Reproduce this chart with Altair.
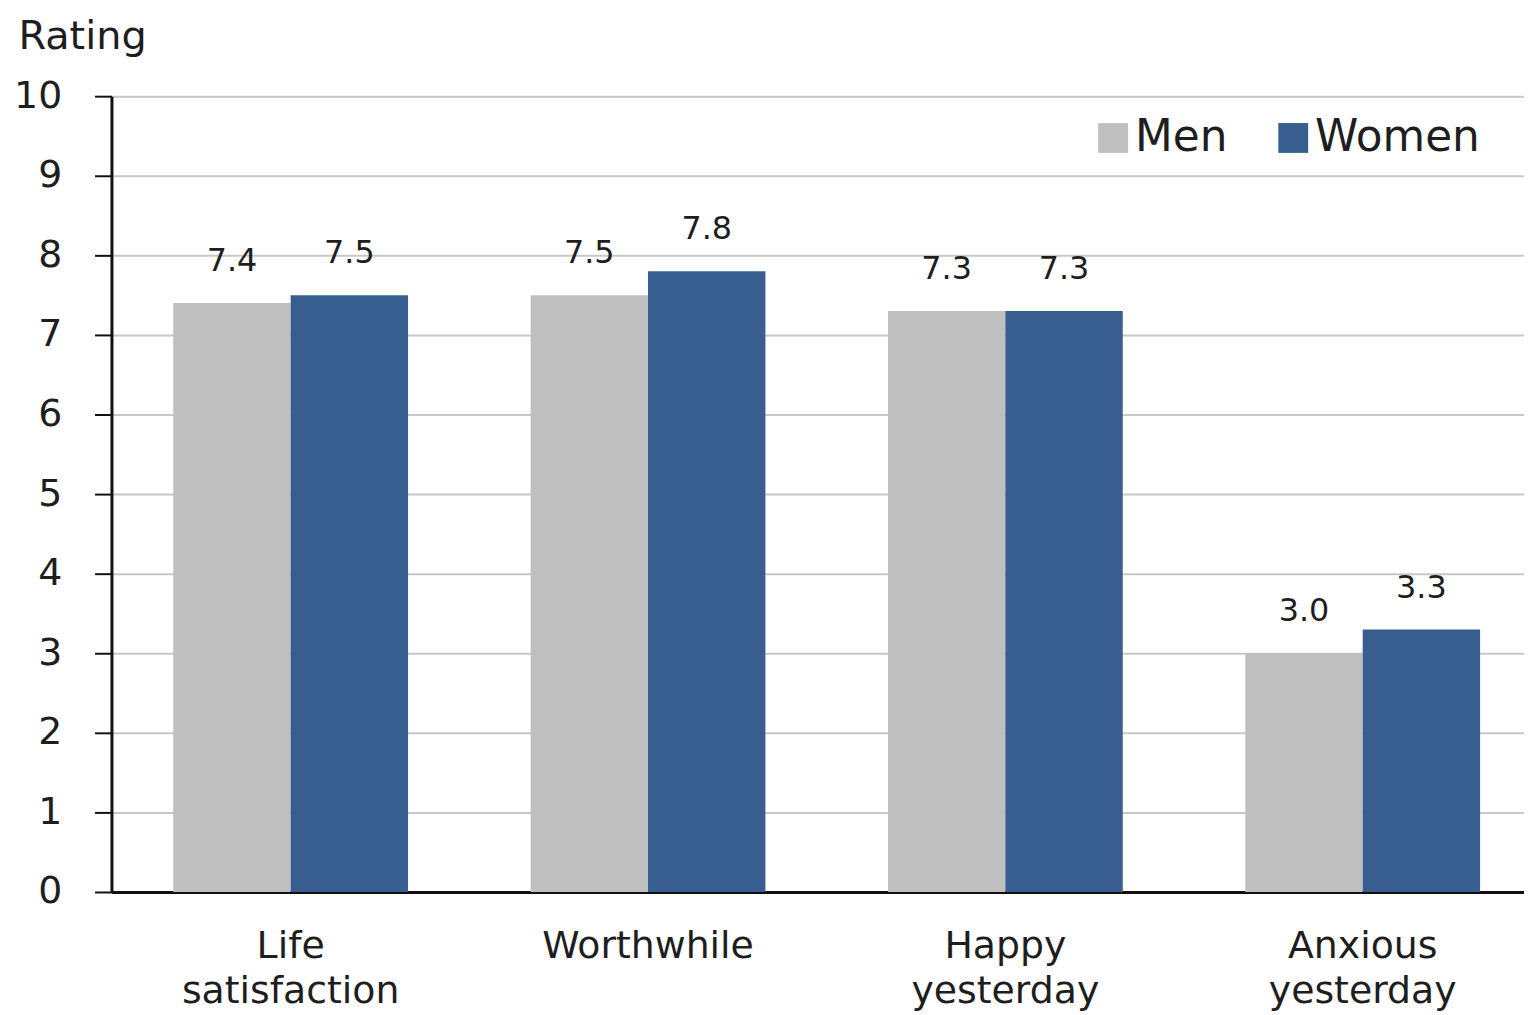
import altair as alt
import pandas as pd

categories = ["Life satisfaction", "Worthwhile", "Happy yesterday", "Anxious yesterday"]
groups = ["Men", "Women"]
men = [7.4, 7.5, 7.3, 3.0]
women = [7.5, 7.8, 7.3, 3.3]
y_ticks = [0, 1, 2, 3, 4, 5, 6, 7, 8, 9, 10]
colors = ["#BFBFBF", "#375E8F"]

rows = []
for c, m, w in zip(categories, men, women):
    rows.append({"category": c, "group": "Men", "value": m})
    rows.append({"category": c, "group": "Women", "value": w})
df = pd.DataFrame(rows)

FONT = "DejaVu Sans"
TXT = "#1e1e1e"

x_enc = alt.X(
    "category:N",
    sort=categories,
    scale=alt.Scale(paddingInner=0.343, paddingOuter=0.173),
    axis=alt.Axis(
        title=None,
        labelAngle=0,
        labelExpr="split(datum.label, ' ')",
        labelFontSize=38,
        labelFont=FONT,
        labelColor=TXT,
        labelPadding=36,
        labelLineHeight=45,
        labelLimit=0,
        ticks=False,
        domainColor="#111111",
        domainWidth=3,
        grid=False,
    ),
)
xoff = alt.XOffset("group:N", sort=groups, scale=alt.Scale(paddingInner=0, paddingOuter=0))

y_enc = alt.Y(
    "value:Q",
    scale=alt.Scale(domain=[0, 10], nice=False),
    axis=alt.Axis(
        title="Rating",
        titleAngle=0,
        titleAlign="left",
        titleBaseline="alphabetic",
        titleX=-94,
        titleY=-48,
        titleFontSize=40,
        titleFont=FONT,
        titleFontWeight="normal",
        titleColor=TXT,
        values=y_ticks,
        format="d",
        labelFontSize=38,
        labelFont=FONT,
        labelColor=TXT,
        labelPadding=33,
        tickSize=17,
        tickColor="#111111",
        tickWidth=2,
        domainColor="#111111",
        domainWidth=3,
        grid=True,
        gridColor="#C8C8C8",
        gridWidth=2,
    ),
)

bars = alt.Chart(df).mark_bar().encode(
    x=x_enc,
    xOffset=xoff,
    y=y_enc,
    color=alt.Color(
        "group:N",
        sort=groups,
        scale=alt.Scale(domain=groups, range=colors),
        legend=alt.Legend(
            title=None,
            orient="none",
            legendX=985,
            legendY=20,
            direction="horizontal",
            symbolType="square",
            symbolSize=900,
            symbolStrokeWidth=0,
            labelFontSize=44,
            labelFont=FONT,
            labelColor=TXT,
            labelOffset=0,
            labelLimit=0,
            columnPadding=44,
            padding=0,
        ),
    ),
)

labels = alt.Chart(df).mark_text(
    baseline="bottom", dy=-25, fontSize=32, font=FONT, color=TXT
).encode(
    x=alt.X("category:N", sort=categories),
    xOffset=alt.XOffset("group:N", sort=groups),
    y=alt.Y("value:Q"),
    text=alt.Text("value:Q", format=".1f"),
)

chart = (
    alt.layer(bars, labels)
    .properties(
        width=1438,
        height=800,
        autosize=alt.AutoSizeParams(type="none"),
        padding={"left": 104, "top": 86, "right": -18, "bottom": 121},
    )
    .configure_view(stroke=None)
    .configure(background="white")
)

chart.save("out.html", embed_options={"renderer": "svg", "actions": False})
